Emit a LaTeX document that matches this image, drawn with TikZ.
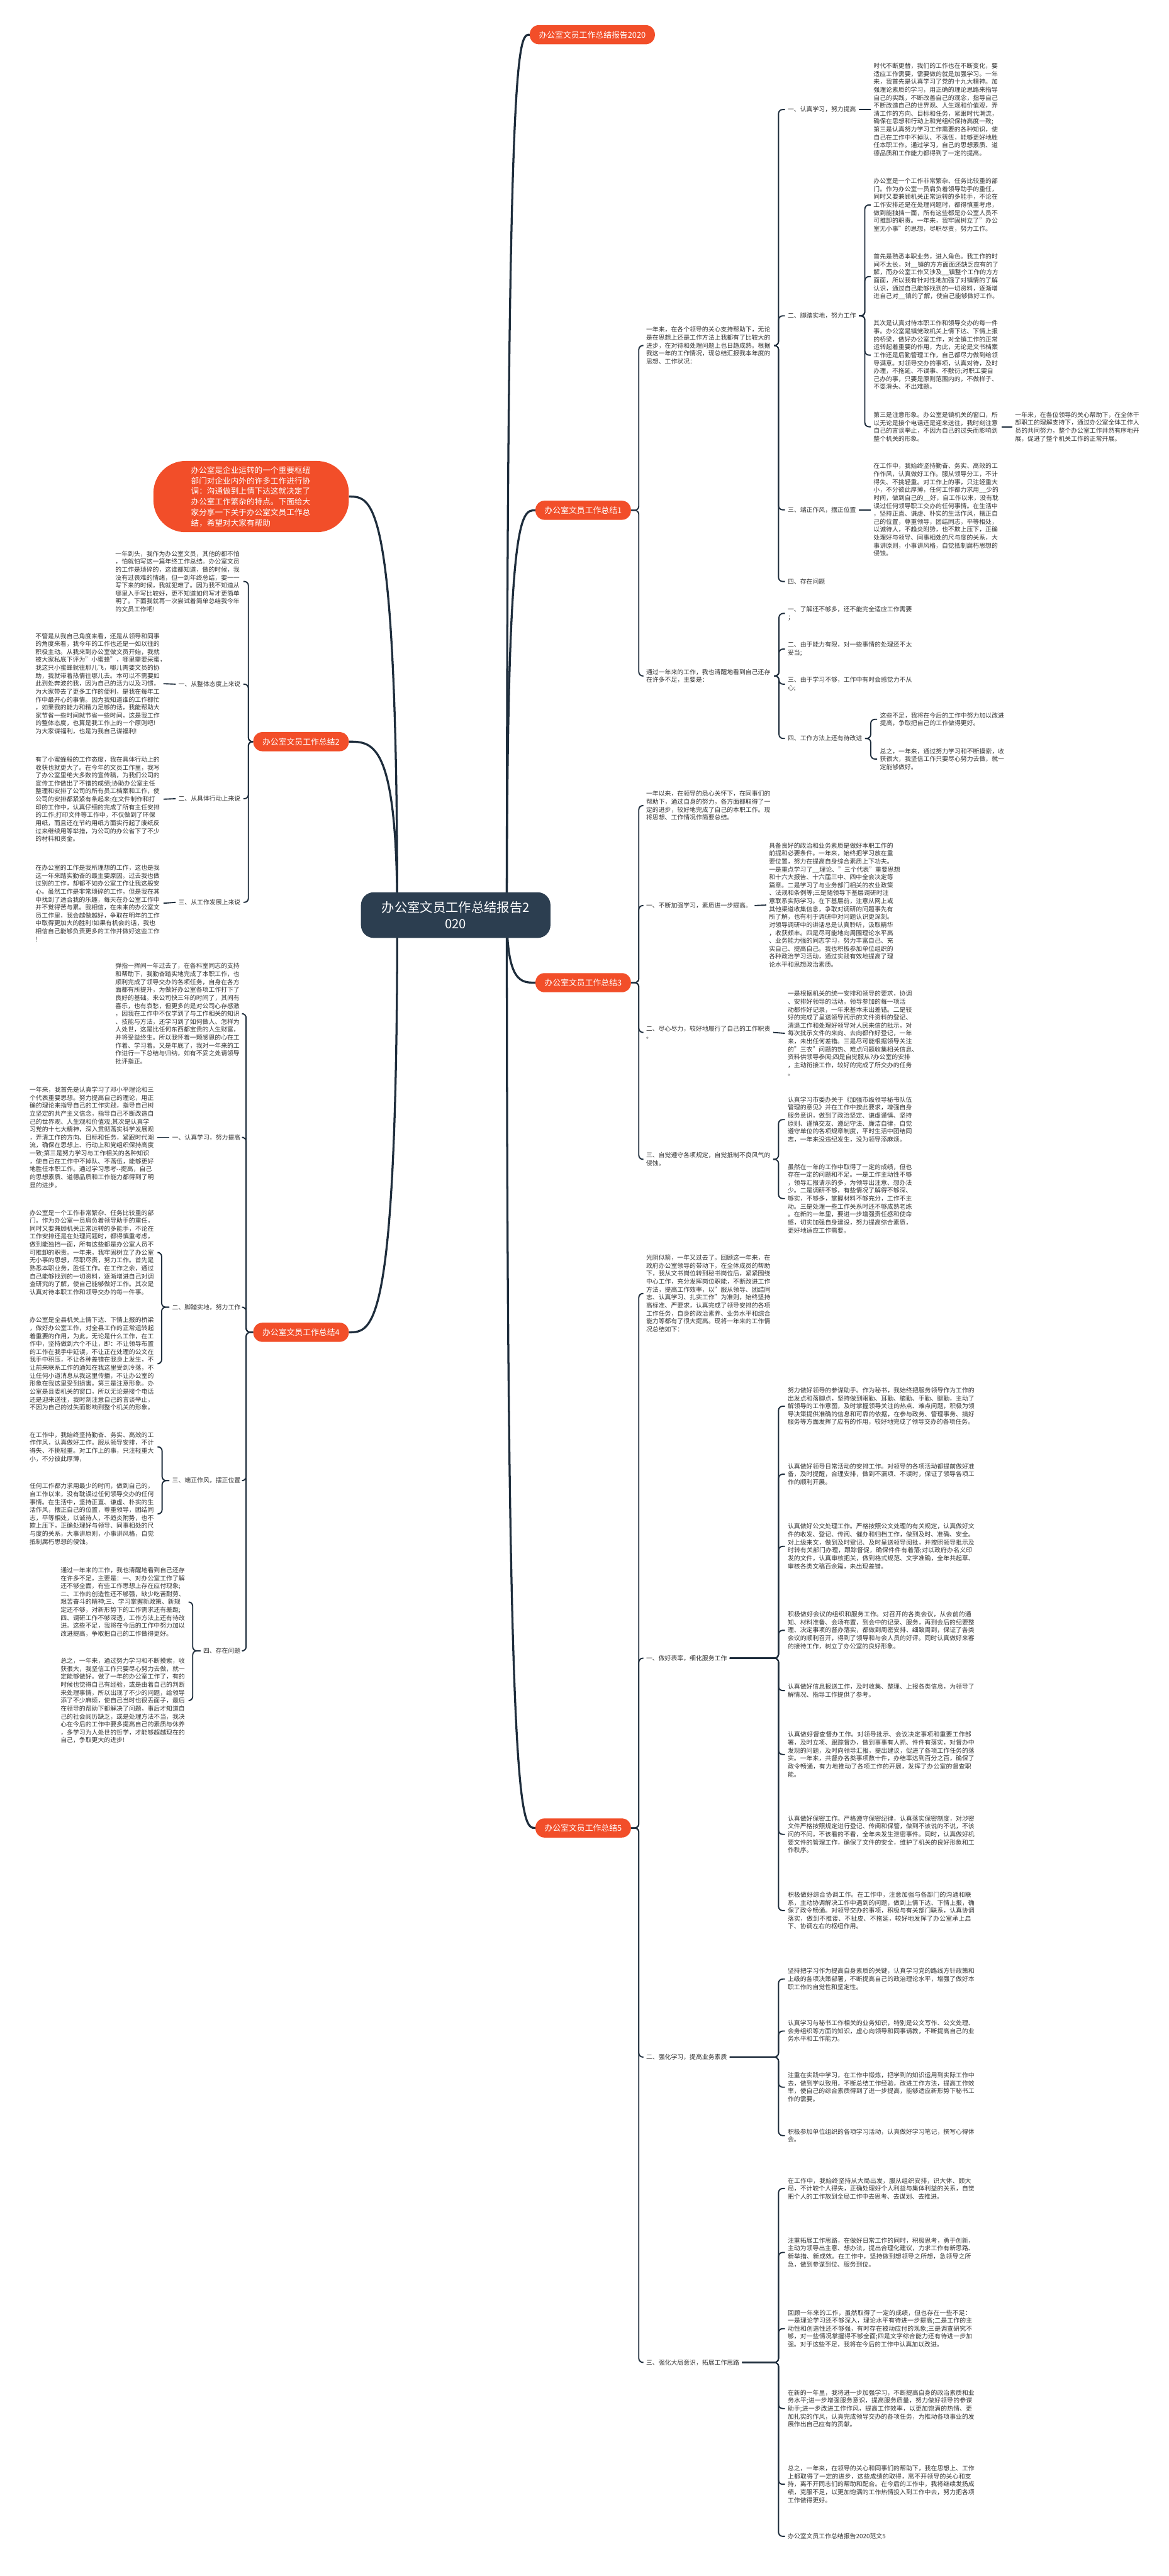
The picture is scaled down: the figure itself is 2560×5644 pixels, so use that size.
\documentclass[tikz,border=0pt]{standalone}
\usepackage{fontspec}
\setmainfont{Noto Sans CJK SC}
\usetikzlibrary{calc}
\pgfdeclarelayer{background}
\pgfsetlayers{background,main}
\definecolor{navy}{HTML}{1E2D3C}
\definecolor{brandred}{HTML}{F24E29}
\definecolor{rootfill}{HTML}{2C3E50}
\definecolor{txt}{HTML}{333333}
\newcommand{\cjkbreak}{\XeTeXlinebreaklocale "zh"\XeTeXlinebreakskip=0pt plus 1pt\relax}
\tikzset{
 para/.style={anchor=west, align=left, text width=274pt, inner xsep=6pt, inner ysep=2pt, font=\fontsize{13.6}{17.4}\selectfont, text=txt},
 paraL/.style={para, anchor=east},
 paraW/.style={para, text width=410pt, font=\fontsize{13.6}{17.4}\selectfont\cjkbreak},
 lab/.style={anchor=west, align=left, inner xsep=6pt, inner ysep=2pt, font=\fontsize{13.6}{17.4}\selectfont, text=txt},
 labL/.style={lab, anchor=east},
 branch/.style={fill=brandred, text=white, rounded corners=20pt, minimum height=42pt, inner xsep=20pt, font=\fontsize{17.7}{21}\selectfont},
 rootnode/.style={fill=rootfill, text=white, rounded corners=28pt, minimum width=415pt, minimum height=100pt, align=center, font=\fontsize{28}{36}\selectfont},
 br/.style={draw=navy, line width=2.6pt, rounded corners=9pt},
 mainc/.style={draw=navy, line width=4.5pt},
}
\newcommand{\conR}[3]{\draw[br] (#1.east) -| ($(#2.west)+(-#3,0)$) -- (#2.west);}
\newcommand{\conL}[3]{\draw[br] (#1.west) -| ($(#2.east)+(#3,0)$) -- (#2.east);}
\begin{document}
\begin{tikzpicture}[x=1pt,y=-1pt]
\useasboundingbox (0,0) rectangle (2560,5644);

% ---------- root ----------
\node[rootnode] (root) at (998,2005) {办公室文员工作总结报告2\\020};
\node[branch, anchor=west] (t0) at (1160,76) {办公室文员工作总结报告2020};

% ---------- branch 1 ----------
\node[branch, anchor=east] (b1) at (1382,1118) {办公室文员工作总结1};
\node[para] (p1a) at (1409,757) {一年来，在各个领导的关心支持帮助下，无论\\是在思想上还是工作方法上我都有了比较大的\\进步，在对待和处理问题上也日趋成熟。根据\\我这一年的工作情况，现总结汇报我本年度的\\思想、工作状况：};
\node[para] (p1b) at (1409,1481) {通过一年来的工作，我也清醒地看到自己还存\\在许多不足，主要是：};

\node[lab] (l11) at (1719,240) {一、认真学习，努力提高};
\node[lab] (l12) at (1719,692) {二、脚踏实地，努力工作};
\node[lab] (l13) at (1719,1117) {三、端正作风，摆正位置};
\node[lab] (l14) at (1719,1274) {四、存在问题};

\node[para] (p111) at (1907,240) {时代不断更替，我们的工作也在不断变化，要\\适应工作需要，需要做的就是加强学习。一年\\来，我首先是认真学习了党的十九大精神。加\\强理论素质的学习，用正确的理论思路来指导\\自己的实践，不断改善自己的观念，指导自己\\不断改造自己的世界观、人生观和价值观，弄\\清工作的方向、目标和任务，紧跟时代潮流，\\确保在思想和行动上和党组织保持高度一致;\\第三是认真努力学习工作需要的各种知识，使\\自己在工作中不掉队、不落伍，能够更好地胜\\任本职工作。通过学习，自己的思想素质、道\\德品质和工作能力都得到了一定的提高。};
\node[para] (p121) at (1907,449) {办公室是一个工作非常繁杂、任务比较重的部\\门。作为办公室一员肩负着领导助手的重任，\\同时又要兼顾机关正常运转的多能手，不论在\\工作安排还是在处理问题时，都得慎重考虑，\\做到能独挡一面，所有这些都是办公室人员不\\可推卸的职责。一年来，我牢固树立了"办公\\室无小事"的思想，尽职尽责，努力工作。};
\node[para] (p122) at (1907,606) {首先是熟悉本职业务，进入角色。我工作的时\\间不太长，对\_\_镇的方方面面还缺乏应有的了\\解，而办公室工作又涉及\_\_镇整个工作的方方\\面面，所以我有针对性地加强了对镇情的了解\\认识，通过自己能够找到的一切资料，逐渐增\\进自己对\_\_镇的了解，使自己能够做好工作。};
\node[para] (p123) at (1907,778) {其次是认真对待本职工作和领导交办的每一件\\事。办公室是镇党政机关上情下达、下情上报\\的桥梁，做好办公室工作，对全镇工作的正常\\运转起着重要的作用，为此，无论是文书档案\\工作还是后勤管理工作，自己都尽力做到给领\\导满意。对领导交办的事项，认真对待，及时\\办理，不拖延、不误事、不敷衍;对职工要自\\己办的事，只要是原则范围内的，不做样子、\\不耍滑头、不出难题。};
\node[para] (p124) at (1907,935) {第三是注意形象。办公室是镇机关的窗口，所\\以无论是接个电话还是迎来送往，我时刻注意\\自己的言谈举止，不因为自己的过失而影响到\\整个机关的形象。};
\node[para] (p1241) at (2217,935) {一年来，在各位领导的关心帮助下，在全体干\\部职工的理解支持下，通过办公室全体工作人\\员的共同努力，整个办公室工作井然有序地开\\展，促进了整个机关工作的正常开展。};
\node[para] (p131) at (1907,1117) {在工作中，我始终坚持勤奋、务实、高效的工\\作作风，认真做好工作。服从领导分工，不计\\得失、不挑轻重。对工作上的事，只注轻重大\\小，不分彼此厚薄，任何工作都力求用\_\_少的\\时间，做到自己的\_\_好，自工作以来，没有耽\\误过任何领导职工交办的任何事情。在生活中\\，坚持正直、谦虚、朴实的生活作风，摆正自\\己的位置，尊重领导，团结同志，平等相处，\\以诚待人，不趋炎附势，也不欺上压下，正确\\处理好与领导、同事相处的尺与度的关系，大\\事讲原则，小事讲风格，自觉抵制腐朽思想的\\侵蚀。};

\node[lab] (l21) at (1719,1344) {一、了解还不够多，还不能完全适应工作需要\\；};
\node[lab] (l22) at (1719,1422) {二、由于能力有限，对一些事情的处理还不太\\妥当;};
\node[lab] (l23) at (1719,1499) {三、由于学习不够，工作中有时会感觉力不从\\心;};
\node[lab] (l24) at (1719,1618) {四、工作方法上还有待改进};
\node[para] (p241) at (1921,1576) {这些不足，我将在今后的工作中努力加以改进\\提高，争取把自己的工作做得更好。};
\node[para] (p242) at (1921,1663) {总之，一年来，通过努力学习和不断摸索，收\\获很大，我坚信工作只要尽心努力去做，就一\\定能够做好。};

% ---------- summary note ----------
\node[fill=brandred, text=white, rounded corners=70pt, minimum width=428pt, minimum height=156pt, text width=263pt, align=left, font=\fontsize{17.4}{23.2}\selectfont] (rnote) at (550,1088) {办公室是企业运转的一个重要枢纽\\部门对企业内外的许多工作进行协\\调：沟通做到上情下达这就决定了\\办公室工作繁杂的特点。下面给大\\家分享一下关于办公室文员工作总\\结，希望对大家有帮助};

% ---------- branch 2 ----------
\node[branch, anchor=east] (b2) at (764,1625) {办公室文员工作总结2};
\node[paraL] (p2a) at (533,1274) {一年到头，我作为办公室文员，其他的都不怕\\，怕就怕写这一篇年终工作总结。办公室文员\\的工作是琐碎的，这谁都知道，做的时候，我\\没有过畏难的情绪，但一到年终总结，要一一\\写下来的时候，我就犯难了。因为我不知道从\\哪里入手写比较好，更不知道如何写才更简单\\明了。下面我就再一次尝试着简单总结我今年\\的文员工作吧!};
\node[labL] (l2a) at (533,1499) {一、从整体态度上来说};
\node[labL] (l2b) at (533,1750) {二、从具体行动上来说};
\node[labL] (l2c) at (533,1977) {三、从工作发展上来说};
\node[paraL] (p2a1) at (358,1498) {不管是从我自己角度来看，还是从领导和同事\\的角度来看，我今年的工作也还是一如以往的\\积极主动。从我来到办公室做文员开始，我就\\被大家私底下评为"小蜜蜂"，哪里需要采蜜，\\我这只小蜜蜂就往那儿飞，哪儿需要文员的协\\助，我就带着热情往哪儿去。本可以不需要如\\此到处奔波的我，因为自己的活力以及习惯，\\为大家带去了更多工作的便利，是我在每年工\\作中最开心的事情。因为我知道谁的工作都忙\\，如果我的能力和精力足够的话，我能帮助大\\家节省一些时间就节省一些时间，这是我工作\\的整体态度，也算是我工作上的一个原则吧!\\为大家谋福利，也是为我自己谋福利!};
\node[paraL] (p2b1) at (358,1751) {有了小蜜蜂般的工作态度，我在具体行动上的\\收获也就更大了。在今年的文员工作里，我写\\了办公室里绝大多数的宣传稿，为我们公司的\\宣传工作做出了不错的成绩;协助办公室主任\\整理和安排了公司的所有员工档案和工作，使\\公司的安排都紧紧有条起来;在文件制作和打\\印的工作中，认真仔细的完成了所有主任安排\\的工作;打印文件等工作中，不仅做到了环保\\用纸，而且还在节约用纸方面实行起了废纸反\\过来继续用等举措，为公司的办公省下了不少\\的材料和资金。};
\node[paraL] (p2c1) at (358,1979) {在办公室的工作是我所理想的工作，这也是我\\这一年来踏实勤奋的最主要原因。过去我也做\\过别的工作，却都不如办公室工作让我这般安\\心。虽然工作是非常琐碎的工作，但是我在其\\中找到了适合我的乐趣，每天在办公室工作中\\并不觉得苦与累。我相信，在未来的办公室文\\员工作里，我会越做越好，争取在明年的工作\\中取得更加大的胜利!如果有机会的话，我也\\相信自己能够负责更多的工作并做好这些工作\\!};

% ---------- branch 3 ----------
\node[branch, anchor=east] (b3) at (1382,2153) {办公室文员工作总结3};
\node[para] (p3a) at (1409,1765) {一年以来，在领导的悉心关怀下，在同事们的\\帮助下，通过自身的努力，各方面都取得了一\\定的进步，较好地完成了自己的本职工作。现\\将思想、工作情况作简要总结。};
\node[lab] (l31) at (1409,1984) {一、不断加强学习，素质进一步提高。};
\node[lab] (l32) at (1409,2262) {二、尽心尽力，较好地履行了自己的工作职责\\。};
\node[lab] (l33) at (1409,2540) {三、自觉遵守各项规定，自觉抵制不良风气的\\侵蚀。};
\node[para] (p311) at (1678,1983) {具备良好的政治和业务素质是做好本职工作的\\前提和必要条件。一年来，始终把学习放在重\\要位置，努力在提高自身综合素质上下功夫。\\一是重点学习了\_\_理论、"三个代表"重要思想\\和十六大报告、十六届三中、四中全会决定等\\篇章。二是学习了与业务部门相关的农业政策\\、法规和条例等;三是随领导下基层调研时注\\意联系实际学习。在下基层前，注意从网上或\\其他渠道收集信息，争取对调研的问题事先有\\所了解，也有利于调研中对问题认识更深刻。\\对领导调研中的讲话总是认真聆听，汲取精华\\，收获颇丰。四是尽可能地向周围理论水平高\\、业务能力强的同志学习，努力丰富自己、充\\实自己、提高自己。我也积极参加单位组织的\\各种政治学习活动，通过实践有效地提高了理\\论水平和思想政治素质。};
\node[para] (p321) at (1719,2264) {一是根据机关的统一安排和领导的要求，协调\\、安排好领导的活动。领导参加的每一项活\\动都作好记录，一年来基本未出差错。二是较\\好的完成了呈送领导阅示的文件资料的登记、\\清退工作和处理好领导对人民来信的批示，对\\每次批示文件的来向、去向都作好登记，一年\\来，未出任何差错。三是尽可能根据领导关注\\的"三农"问题的热、难点问题收集相关信息、\\资料供领导参阅;四是自觉服从?办公室的安排\\，主动衔接工作，较好的完成了所交办的任务\\。};
\node[para] (p331) at (1719,2453) {认真学习市委办关于《加强市级领导秘书队伍\\管理的意见》并在工作中按此要求，增强自身\\服务意识，做到了政治坚定、谦虚谨慎、坚持\\原则、谨慎交友、遵纪守法、廉洁自律，自觉\\遵守单位的各项规章制度，平时生活中团结同\\志，一年来没违纪发生，没为领导添麻烦。};
\node[para] (p332) at (1719,2626) {虽然在一年的工作中取得了一定的成绩，但也\\存在一定的问题和不足。一是工作主动性不够\\，领导汇报请示的多，为领导出注意、想办法\\少。二是调研不够，有些情况了解得不够深、\\够实，不够多，掌握材料不够充分，工作不主\\动。三是处理一些工作关系时还不够成熟老练\\。在新的一年里，要进一步增强责任感和使命\\感，切实加强自身建设，努力提高综合素质，\\更好地适应工作需要。};

% ---------- branch 4 ----------
\node[branch, anchor=east] (b4) at (764,2919) {办公室文员工作总结4};
\node[paraL] (p4a) at (533,2221) {弹指一挥间一年过去了，在各科室同志的支持\\和帮助下，我勤奋踏实地完成了本职工作，也\\顺利完成了领导交办的各项任务，自身在各方\\面都有所提升，为做好办公室各项工作打下了\\良好的基础。来公司快三年的时间了，其间有\\喜乐，也有哀愁，但更多的是对公司心存感激\\，因我在工作中不仅学到了与工作相关的知识\\、技能与方法，还学习到了如何做人、怎样为\\人处世，这是比任何东西都宝贵的人生财富，\\并将受益终生。所以我怀着一颗感恩的心在工\\作着、学习着。又是年底了，我对一年来的工\\作进行一下总结与归纳，如有不妥之处请领导\\批评指正。};
\node[labL] (l41) at (533,2492) {一、认真学习，努力提高};
\node[labL] (l42) at (533,2864) {二、脚踏实地，努力工作};
\node[labL] (l43) at (533,3244) {三、端正作风，摆正位置};
\node[labL] (l44) at (533,3617) {四、存在问题};
\node[paraL] (p411) at (345,2492) {一年来，我首先是认真学习了邓小平理论和三\\个代表重要思想。努力提高自己的理论，用正\\确的理论来指导自己的工作实践，指导自己树\\立坚定的共产主义信念，指导自己不断改造自\\己的世界观、人生观和价值观;其次是认真学\\习党的十七大精神，深入贯彻落实科学发展观\\，弄清工作的方向、目标和任务，紧跟时代潮\\流，确保在思想上、行动上和党组织保持高度\\一致;第三是努力学习与工作相关的各种知识\\，使自己在工作中不掉队、不落伍，能够更好\\地胜任本职工作。通过学习思考-{}-提高，自己\\的思想素质、道德品质和工作能力都得到了明\\显的进步。};
\node[paraL] (p421) at (345,2744) {办公室是一个工作非常繁杂、任务比较重的部\\门。作为办公室一员肩负着领导助手的重任，\\同时又要兼顾机关正常运转的多能手，不论在\\工作安排还是在处理问题时，都得慎重考虑，\\做到能独挡一面，所有这些都是办公室人员不\\可推卸的职责。一年来，我牢固树立了办公室\\无小事的思想，尽职尽责，努力工作。首先是\\熟悉本职业务，胜任工作。在工作之余，通过\\自己能够找到的一切资料，逐渐增进自己对调\\查研究的了解，使自己能够做好工作。其次是\\认真对待本职工作和领导交办的每一件事。};
\node[paraL] (p422) at (345,2988) {办公室是全县机关上情下达、下情上报的桥梁\\，做好办公室工作，对全县工作的正常运转起\\着重要的作用，为此，无论是什么工作，在工\\作中，坚持做到六个不让，即：不让领导布置\\的工作在我手中延误，不让正在处理的公文在\\我手中积压，不让各种差错在我身上发生，不\\让前来联系工作的通知在我这里受到冷落，不\\让任何小道消息从我这里传播，不让办公室的\\形象在我这里受到损害。第三是注意形象。办\\公室是县委机关的窗口，所以无论是接个电话\\还是迎来送往，我时刻注意自己的言谈举止，\\不因为自己的过失而影响到整个机关的形象。};
\node[paraL] (p431) at (345,3170) {在工作中，我始终坚持勤奋、务实、高效的工\\作作风，认真做好工作。服从领导安排，不计\\得失、不挑轻重。对工作上的事，只注轻重大\\小，不分彼此厚薄，};
\node[paraL] (p432) at (345,3317) {任何工作都力求用最少的时间，做到自己的，\\自工作以来，没有耽误过任何领导交办的任何\\事情。在生活中，坚持正直、谦虚、朴实的生\\活作风，摆正自己的位置，尊重领导，团结同\\志，平等相处，以诚待人，不趋炎附势，也不\\欺上压下，正确处理好与领导、同事相处的尺\\与度的关系，大事讲原则，小事讲风格，自觉\\抵制腐朽思想的侵蚀。};
\node[paraL] (p441) at (413,3510) {通过一年来的工作，我也清醒地看到自己还存\\在许多不足，主要是：一、对办公室工作了解\\还不够全面，有些工作思想上存在应付现象;\\二、工作的创造性还不够强，缺少吃苦耐劳、\\艰苦奋斗的精神;三、学习掌握新政策、新规\\定还不够，对新形势下的工作需求还有差距;\\四、调研工作不够深透，工作方法上还有待改\\进。这些不足，我将在今后的工作中努力加以\\改进提高，争取把自己的工作做得更好。};
\node[paraL] (p442) at (413,3726) {总之，一年来，通过努力学习和不断摸索，收\\获很大，我坚信工作只要尽心努力去做，就一\\定能够做好。做了一年的办公室工作了，有的\\时候也觉得自己有经验，或是由着自己的判断\\来处理事情，所以出现了不少的问题，给领导\\添了不少麻烦，使自己当时也很丢面子，最后\\在领导的帮助下都解决了问题，事后才知道自\\己的社会阅历缺乏，或是处理方法不当，我决\\心在今后的工作中要多提高自己的素质与休养\\，多学习为人处世的哲学，才能够超越现在的\\自己，争取更大的进步!};

% ---------- branch 5 ----------
\node[branch, anchor=east] (b5) at (1382,4005) {办公室文员工作总结5};
\node[para] (p5a) at (1409,2834) {光阴似箭，一年又过去了。回顾这一年来，在\\政府办公室领导的带动下，在全体成员的帮助\\下，我从文书岗位转到秘书岗位后，紧紧围绕\\中心工作，充分发挥岗位职能，不断改进工作\\方法，提高工作效率，以"服从领导、团结同\\志、认真学习、扎实工作"为准则，始终坚持\\高标准、严要求，认真完成了领导安排的各项\\工作任务，自身的政治素养、业务水平和综合\\能力等都有了很大提高。现将一年来的工作情\\况总结如下：};
\node[lab] (l51) at (1409,3633) {一、做好表率，细化服务工作};
\node[lab] (l52) at (1409,4507) {二、强化学习，提高业务素质};
\node[lab] (l53) at (1409,5176) {三、强化大局意识，拓展工作思路};

\node[paraW] (p511) at (1719,3081) {努力做好领导的参谋助手。作为秘书，我始终把服务领导作为工作的出发点和落脚点，坚持做到眼勤、耳勤、脑勤、手勤、腿勤，主动了解领导的工作意图，及时掌握领导关注的热点、难点问题，积极为领导决策提供准确的信息和可靠的依据，在参与政务、管理事务、搞好服务等方面发挥了应有的作用，较好地完成了领导交办的各项任务。};
\node[paraW] (p512) at (1719,3230) {认真做好领导日常活动的安排工作。对领导的各项活动都提前做好准备，及时提醒，合理安排，做到不漏项、不误时，保证了领导各项工作的顺利开展。};
\node[paraW] (p513) at (1719,3388) {认真做好公文处理工作。严格按照公文处理的有关规定，认真做好文件的收发、登记、传阅、催办和归档工作，做到及时、准确、安全。对上级来文，做到及时登记、及时呈送领导阅批，并按照领导批示及时转有关部门办理，跟踪督促，确保件件有着落;对以政府办名义印发的文件，认真审核把关，做到格式规范、文字准确，全年共起草、审核各类文稿百余篇，未出现差错。};
\node[paraW] (p514) at (1719,3572) {积极做好会议的组织和服务工作。对召开的各类会议，从会前的通知、材料准备、会场布置，到会中的记录、服务，再到会后的纪要整理、决定事项的督办落实，都做到周密安排、细致周到，保证了各类会议的顺利召开，得到了领导和与会人员的好评。同时认真做好来客的接待工作，树立了办公室的良好形象。};
\node[paraW] (p515) at (1719,3704) {认真做好信息报送工作，及时收集、整理、上报各类信息，为领导了解情况、指导工作提供了参考。};
\node[paraW] (p516) at (1719,3844) {认真做好督查督办工作。对领导批示、会议决定事项和重要工作部署，及时立项、跟踪督办，做到事事有人抓、件件有落实，对督办中发现的问题，及时向领导汇报，提出建议，促进了各项工作任务的落实。一年来，共督办各类事项数十件，办结率达到百分之百，确保了政令畅通，有力地推动了各项工作的开展，发挥了办公室的督查职能。};
\node[paraW] (p517) at (1719,4019) {认真做好保密工作。严格遵守保密纪律，认真落实保密制度，对涉密文件严格按照规定进行登记、传阅和保管，做到不该说的不说，不该问的不问，不该看的不看，全年未发生泄密事件。同时，认真做好机要文件的管理工作，确保了文件的安全，维护了机关的良好形象和工作秩序。};
\node[paraW] (p518) at (1719,4186) {积极做好综合协调工作。在工作中，注意加强与各部门的沟通和联系，主动协调解决工作中遇到的问题，做到上情下达、下情上报，确保了政令畅通。对领导交办的事项，积极与有关部门联系，认真协调落实，做到不推诿、不扯皮、不拖延，较好地发挥了办公室承上启下、协调左右的枢纽作用。};

\node[paraW] (p521) at (1719,4336) {坚持把学习作为提高自身素质的关键，认真学习党的路线方针政策和上级的各项决策部署，不断提高自己的政治理论水平，增强了做好本职工作的自觉性和坚定性。};
\node[paraW] (p522) at (1719,4450) {认真学习与秘书工作相关的业务知识，特别是公文写作、公文处理、会务组织等方面的知识，虚心向领导和同事请教，不断提高自己的业务水平和工作能力。};
\node[paraW] (p523) at (1719,4573) {注重在实践中学习，在工作中锻炼，把学到的知识运用到实际工作中去，做到学以致用，不断总结工作经验，改进工作方法，提高工作效率，使自己的综合素质得到了进一步提高，能够适应新形势下秘书工作的需要。};
\node[paraW] (p524) at (1719,4679) {积极参加单位组织的各项学习活动，认真做好学习笔记，撰写心得体会。};

\node[paraW] (p531) at (1719,4795) {在工作中，我始终坚持从大局出发，服从组织安排，识大体、顾大局，不计较个人得失，正确处理好个人利益与集体利益的关系，自觉把个人的工作放到全局工作中去思考、去谋划、去推进。};
\node[paraW] (p532) at (1719,4935) {注重拓展工作思路，在做好日常工作的同时，积极思考，勇于创新，主动为领导出主意、想办法，提出合理化建议，力求工作有新思路、新举措、新成效。在工作中，坚持做到想领导之所想，急领导之所急，做到参谋到位、服务到位。};
\node[paraW] (p533) at (1719,5102) {回顾一年来的工作，虽然取得了一定的成绩，但也存在一些不足：一是理论学习还不够深入，理论水平有待进一步提高;二是工作的主动性和创造性还不够强，有时存在被动应付的现象;三是调查研究不够，对一些情况掌握得不够全面;四是文字综合能力还有待进一步加强。对于这些不足，我将在今后的工作中认真加以改进。};
\node[paraW] (p534) at (1719,5277) {在新的一年里，我将进一步加强学习，不断提高自身的政治素质和业务水平;进一步增强服务意识，提高服务质量，努力做好领导的参谋助手;进一步改进工作作风，提高工作效率，以更加饱满的热情、更加扎实的作风，认真完成领导交办的各项任务，为推动各项事业的发展作出自己应有的贡献。};
\node[paraW] (p535) at (1719,5443) {总之，一年来，在领导的关心和同事们的帮助下，我在思想上、工作上都取得了一定的进步，这些成绩的取得，离不开领导的关心和支持，离不开同志们的帮助和配合。在今后的工作中，我将继续发扬成绩，克服不足，以更加饱满的工作热情投入到工作中去，努力把各项工作做得更好。};
\node[paraW] (p536) at (1719,5557) {办公室文员工作总结报告2020范文5};

% ---------- connectors ----------
\begin{pgfonlayer}{background}
\fill[white] (0,0) rectangle (2560,5644);
\draw[mainc] (870,2005) .. controls (870,1088) and (817,1088) .. (rnote.east);
\draw[mainc] (870,2005) .. controls (870,1625) and (817,1625) .. (b2.east);
\draw[mainc] (870,2005) .. controls (870,2919) and (817,2919) .. (b4.east);
\draw[mainc] (1110,2005) .. controls (1110,76) and (1135,76) .. (t0.west);
\draw[mainc] (1110,2005) .. controls (1110,1118) and (1141,1118) .. (b1.west);
\draw[mainc] (1110,2005) .. controls (1110,2153) and (1141,2153) .. (b3.west);
\draw[mainc] (1110,2005) .. controls (1110,4005) and (1141,4005) .. (b5.west);

\conR{b1}{p1a}{10}
\conR{b1}{p1b}{10}
\conR{p1a}{l11}{14}
\conR{p1a}{l12}{14}
\conR{p1a}{l13}{14}
\conR{p1a}{l14}{14}
\draw[br] (l11.east) -- (p111.west);
\conR{l12}{p121}{13}
\conR{l12}{p122}{13}
\conR{l12}{p123}{13}
\conR{l12}{p124}{13}
\draw[br] (p124.east) -- (p1241.west);
\draw[br] (l13.east) -- (p131.west);
\conR{p1b}{l21}{13}
\conR{p1b}{l22}{13}
\conR{p1b}{l23}{13}
\conR{p1b}{l24}{13}
\conR{l24}{p241}{14}
\conR{l24}{p242}{14}

\conL{b2}{p2a}{11}
\conL{b2}{l2a}{11}
\conL{b2}{l2b}{11}
\conL{b2}{l2c}{11}
\draw[br] (l2a.west) -- (p2a1.east);
\draw[br] (l2b.west) -- (p2b1.east);
\draw[br] (l2c.west) -- (p2c1.east);

\conR{b3}{p3a}{10}
\conR{b3}{l31}{10}
\conR{b3}{l32}{10}
\conR{b3}{l33}{10}
\draw[br] (l31.east) -- (p311.west);
\draw[br] (l32.east) -- (p321.west);
\conR{l33}{p331}{14}
\conR{l33}{p332}{14}

\conL{b4}{p4a}{6}
\conL{b4}{l41}{6}
\conL{b4}{l42}{6}
\conL{b4}{l43}{6}
\conL{b4}{l44}{6}
\draw[br] (l41.west) -- (p411.east);
\conL{l42}{p421}{9}
\conL{l42}{p422}{9}
\conL{l43}{p431}{10}
\conL{l43}{p432}{10}
\conL{l44}{p441}{9}
\conL{l44}{p442}{9}

\conR{b5}{p5a}{10}
\conR{b5}{l51}{10}
\conR{b5}{l52}{10}
\conR{b5}{l53}{10}
\foreach \c in {p511,p512,p513,p514,p515,p516,p517,p518} {\conR{l51}{\c}{14}}
\foreach \c in {p521,p522,p523,p524} {\conR{l52}{\c}{14}}
\foreach \c in {p531,p532,p533,p534,p535,p536} {\conR{l53}{\c}{14}}
\end{pgfonlayer}
\end{tikzpicture}
\end{document}
